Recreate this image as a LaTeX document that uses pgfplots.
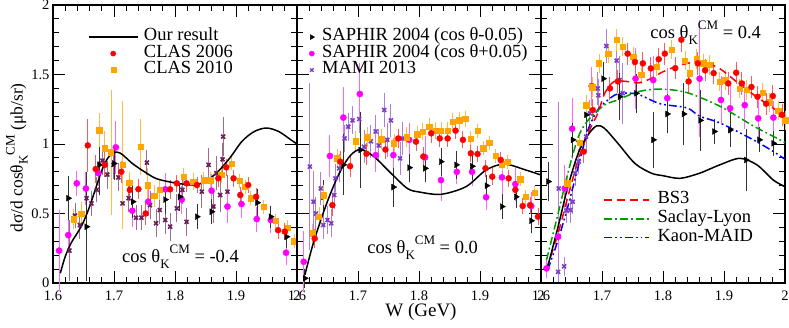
\documentclass[border=0pt]{standalone}
\usepackage{fontspec}
\setmainfont{Liberation Serif}
\usepackage{pgfplots}
\pgfplotsset{compat=1.18}
\definecolor{cl06}{RGB}{255,0,0}
\definecolor{cl10}{RGB}{255,165,0}
\definecolor{sapm}{RGB}{255,0,255}
\definecolor{mami}{RGB}{125,60,195}
\definecolor{mamidark}{RGB}{105,30,85}
\definecolor{slgreen}{RGB}{0,155,0}
\newcommand{\bigf}{\fontsize{18.5}{20}\selectfont}
\newcommand{\subf}{\fontsize{13}{13}\selectfont}
\pgfplotsset{
  panel/.style={scale only axis, width=244pt, height=278pt,
    xmin=1.6, xmax=2, ymin=0, ymax=2, clip=false,
    xtick={1.6,1.7,1.8,1.9,2}, xticklabels={1.6,1.7,1.8,1.9,2},
    ytick={0,0.5,1,1.5,2},
    minor x tick num=4, minor y tick num=4,
    tick align=inside, major tick length=12pt, minor tick length=6pt,
    tick pos=both, xticklabel pos=lower, yticklabel pos=left,
    axis line style={line width=1.2pt},
    every tick/.style={black, line width=1pt},
    tick label style={font=\fontsize{14.5}{14.5}\selectfont},
    xticklabel style={yshift=-4pt},
    /pgf/number format/assume math mode=true,
    legend cell align=left,
  },
  eb/.style={error bars/.cd, y dir=both, y explicit,
    error bar style={color=#1, line width=0.9pt},
    error mark options={color=#1, mark size=2.8pt, line width=0.9pt}, /pgfplots/.cd},
  dA/.style={only marks, mark=*, mark size=3pt, color=cl06, eb=cl06!65},
  dB/.style={only marks, mark=square*, mark size=2.7pt, color=cl10, eb=cl10!75},
  dC/.style={only marks, mark=triangle*, mark size=3.4pt, mark options={rotate=-90}, color=black, eb=black!80},
  dD/.style={only marks, mark=*, mark size=3.1pt, color=sapm, eb=sapm!60},
  dE/.style={only marks, mark=x, mark size=2.8pt, mark options={line width=1.6pt}, color=#1, eb=#1!65},
  ours/.style={black, line width=1.5pt, smooth, no marks},
  bs3/.style={red, line width=1.5pt, dash pattern=on 8pt off 5pt, smooth, no marks},
  sl/.style={slgreen, line width=1.5pt, dash pattern=on 8pt off 3pt on 1.8pt off 3pt, smooth, no marks},
  km/.style={blue, line width=1.5pt, dash pattern=on 8pt off 3pt on 1.8pt off 3pt on 1.8pt off 3pt, smooth, no marks},
}
\begin{document}
\begin{tikzpicture}
%%%%%%%%%%%%%%%%%%%% PANEL 1 %%%%%%%%%%%%%%%%%%%%
\begin{axis}[panel, name=p1,
  yticklabels={0,0.5,1,1.5,2},
  ylabel={dσ/d cosθ\raisebox{-5pt}{\subf K}\raisebox{8pt}{\subf CM} (μb/sr)},
  every axis y label/.style={at={(axis description cs:-0.148,0.45)}, rotate=90, anchor=center, font=\fontsize{17.5}{19}\selectfont},
  legend style={at={(axis cs:1.657,1.83)}, anchor=north west, draw=none, fill=none, inner sep=0pt, font=\bigf, column sep=5pt, nodes={inner sep=0.5pt, text height=11.5pt, text depth=4pt}},
  legend image code/.code={\draw[mark repeat=2,mark phase=2,#1] plot coordinates {(0pt,0pt) (24.5pt,0pt) (49pt,0pt)};},
]
\addlegendimage{ours}\addlegendentry{Our result}
\addlegendimage{only marks, mark=*, mark size=2.6pt, cl06}\addlegendentry{CLAS 2006}
\addlegendimage{only marks, mark=square*, mark size=2.5pt, cl10}\addlegendentry{CLAS 2010}
% MAMI 2013
\addplot[forget plot, dE=mamidark] coordinates {
(1.627,0.233)+-(0,0.2) (1.636,0.485)+-(0,0.07) (1.644,0.417)+-(0,0.08) (1.655,0.61)+-(0,0.08)
(1.663,0.573)+-(0,0.07) (1.672,0.67)+-(0,0.07) (1.681,0.88)+-(0,0.08) (1.689,0.78)+-(0,0.08)
(1.699,0.85)+-(0,0.08) (1.707,0.76)+-(0,0.08) (1.714,0.573)+-(0,0.08) (1.724,0.61)+-(0,0.08)
(1.736,0.47)+-(0,0.07) (1.745,0.47)+-(0,0.07) (1.754,0.866)+-(0,0.07) (1.759,0.56)+-(0,0.08)
(1.769,0.43)+-(0,0.08) (1.775,0.525)+-(0,0.08) (1.784,0.453)+-(0,0.08) (1.792,0.405)+-(0,0.08)
(1.803,0.537)+-(0,0.08) (1.812,0.67)+-(0,0.08) (1.819,0.44)+-(0,0.08) (1.844,0.657)+-(0,0.1)
(1.855,0.85)+-(0,0.1) (1.863,0.55)+-(0,0.1) (1.868,0.79)+-(0,0.1) (1.874,0.633)+-(0,0.1)
(1.878,0.89)+-(0,0.1) (1.879,1.053)+-(0,0.12) (1.886,0.657)+-(0,0.1)
};
% SAPHIR +0.05
\addplot[forget plot, dD] coordinates {
(1.610,0.233)+-(0,0.27) (1.625,0.345)+-(0,0.1) (1.639,0.717)+-(0,0.07) (1.654,0.68)+-(0,0.1)
(1.674,0.79)+-(0,0.07) (1.703,0.976)+-(0,0.17) (1.730,0.52)+-(0,0.1) (1.756,0.585)+-(0,0.08)
(1.784,0.674)+-(0,0.1) (1.811,0.60)+-(0,0.08) (1.860,0.664)+-(0,0.1) (1.886,0.55)+-(0,0.1)
(1.909,0.568)+-(0,0.08) (1.934,0.46)+-(0,0.07) (1.957,0.453)+-(0,0.07) (1.982,0.218)+-(0,0.07)
};
% SAPHIR -0.05
\addplot[forget plot, dC] coordinates {
(1.625,0.61)+-(0,0.14) (1.655,0.405)+-(0,0.37) (1.676,0.85)+-(0,0.2) (1.700,0.86)+-(0,0.1)
(1.731,0.585)+-(0,0.1) (1.784,0.60)+-(0,0.08) (1.808,0.62)+-(0,0.08) (1.836,0.477)+-(0,0.07)
(1.860,0.513)+-(0,0.07) (1.935,0.578)+-(0,0.08) (1.957,0.477)+-(0,0.06) (1.983,0.333)+-(0,0.06)
};
% CLAS 2010
\addplot[forget plot, dB] coordinates {
(1.634,0.46)+-(0,0.05) (1.646,0.50)+-(0,0.06) (1.676,1.10)+-(0,0.1) (1.685,0.97)+-(0,0.1)
(1.695,0.94)+-(0,0.43) (1.714,0.85)+-(0,0.44) (1.725,0.72)+-(0,0.06) (1.744,0.98)+-(0,0.18)
(1.755,0.705)+-(0,0.1) (1.766,0.626)+-(0,0.06) (1.775,0.67)+-(0,0.05) (1.814,0.765)+-(0,0.04)
(1.830,0.73)+-(0,0.04) (1.847,0.74)+-(0,0.04) (1.858,0.74)+-(0,0.04) (1.876,0.78)+-(0,0.04)
(1.893,0.86)+-(0,0.03) (1.906,0.736)+-(0,0.03) (1.915,0.693)+-(0,0.03) (1.924,0.61)+-(0,0.03)
(1.945,0.55)+-(0,0.03) (1.965,0.448)+-(0,0.03) (1.985,0.40)+-(0,0.03) (1.995,0.30)+-(0,0.03)
};
% CLAS 2006
\addplot[forget plot, dA] coordinates {
(1.657,0.99)+-(0,0.17) (1.670,0.82)+-(0,0.08) (1.685,0.85)+-(0,0.07) (1.712,0.80)+-(0,0.06)
(1.726,0.67)+-(0,0.06) (1.740,0.675)+-(0,0.05) (1.752,0.50)+-(0,0.06) (1.792,0.674)+-(0,0.05)
(1.803,0.717)+-(0,0.04) (1.819,0.717)+-(0,0.04) (1.836,0.705)+-(0,0.04) (1.871,0.753)+-(0,0.04)
(1.884,0.832)+-(0,0.04) (1.896,0.753)+-(0,0.04) (1.907,0.633)+-(0,0.04) (1.920,0.705)+-(0,0.04)
(1.933,0.62)+-(0,0.04) (1.969,0.38)+-(0,0.04) (1.980,0.37)+-(0,0.04)
};
% Our result
\addplot[forget plot, ours] coordinates {
(1.612,0.07) (1.62,0.19) (1.63,0.29) (1.64,0.36) (1.65,0.44) (1.66,0.55) (1.67,0.68)
(1.68,0.81) (1.69,0.90) (1.70,0.94) (1.71,0.935) (1.72,0.90) (1.73,0.86) (1.75,0.80)
(1.77,0.75) (1.80,0.72) (1.83,0.705) (1.85,0.73) (1.87,0.80) (1.89,0.90) (1.91,1.02)
(1.93,1.09) (1.95,1.115) (1.97,1.09) (1.99,1.03) (2.0,1.0)
};
\node[anchor=base west, font=\bigf, inner sep=0pt] at (axis cs:1.713,0.151)
  {cos θ\raisebox{-6pt}{\subf K}\raisebox{9pt}{\subf CM} = -0.4};
\end{axis}
%%%%%%%%%%%%%%%%%%%% PANEL 2 %%%%%%%%%%%%%%%%%%%%
\begin{axis}[panel, name=p2, at={(p1.south east)}, anchor=south west,
  yticklabels={},
  xlabel={W (GeV)},
  every axis x label/.style={at={(axis description cs:0.508,-0.105)}, anchor=center, font=\fontsize{19}{20}\selectfont},
  legend style={at={(axis cs:1.6197,1.83)}, anchor=north west, draw=none, fill=none, inner sep=0pt, font=\bigf, column sep=7pt, nodes={inner sep=0.5pt, text height=11.5pt, text depth=4pt}},
  legend image code/.code={\draw[mark repeat=2,mark phase=2,#1] plot coordinates {(0pt,0pt) (5pt,0pt) (10pt,0pt)};},
]
\addlegendimage{only marks, mark=triangle*, mark size=2.8pt, mark options={rotate=-90}, black}\addlegendentry{SAPHIR 2004 (cos θ-0.05)}
\addlegendimage{only marks, mark=*, mark size=2.6pt, sapm}\addlegendentry{SAPHIR 2004 (cos θ+0.05)}
\addlegendimage{only marks, mark=x, mark size=2.4pt, mark options={line width=1.4pt}, mami}\addlegendentry{MAMI 2013}
% MAMI
\addplot[forget plot, dE=mami] coordinates {
(1.621,0.837)+-(0,0.58) (1.627,0.585)+-(0,0.2) (1.631,0.50)+-(0,0.1) (1.639,0.68)+-(0,0.1)
(1.643,0.417)+-(0,0.08) (1.650,0.453)+-(0,0.08) (1.656,0.43)+-(0,0.08) (1.661,0.633)+-(0,0.08)
(1.663,0.753)+-(0,0.08) (1.669,0.825)+-(0,0.08) (1.678,1.04)+-(0,0.08) (1.684,1.125)+-(0,0.08)
(1.691,1.17)+-(0,0.08) (1.702,1.18)+-(0,0.08) (1.710,0.98)+-(0,0.1) (1.721,1.02)+-(0,0.1)
(1.729,1.09)+-(0,0.1) (1.734,0.99)+-(0,0.1) (1.743,1.245)+-(0,0.1) (1.748,1.03)+-(0,0.1)
(1.754,1.17)+-(0,0.1) (1.769,0.897)+-(0,0.1) (1.773,1.04)+-(0,0.1)
};
% SAPHIR +0.05
\addplot[forget plot, dD] coordinates {
(1.611,0.153)+-(0,0.2) (1.654,0.914)+-(0,0.13) (1.676,1.19)+-(0,0.2) (1.703,1.36)+-(0,0.2)
(1.729,0.92)+-(0,0.1) (1.758,0.92)+-(0,0.1) (1.784,1.03)+-(0,0.1) (1.810,0.904)+-(0,0.13)
(1.836,0.74)+-(0,0.13) (1.862,0.80)+-(0,0.07) (1.887,0.80)+-(0,0.08) (1.910,0.617)+-(0,0.07)
(1.936,0.76)+-(0,0.1) (1.958,0.712)+-(0,0.1) (1.984,0.554)+-(0,0.08)
};
% SAPHIR -0.05
\addplot[forget plot, dC] coordinates {
(1.613,0.034)+-(0,0.05) (1.643,0.62)+-(0,0.1) (1.676,0.85)+-(0,0.2) (1.704,0.957)+-(0,0.25)
(1.758,0.69)+-(0,0.12) (1.784,0.83)+-(0,0.08) (1.810,0.825)+-(0,0.08) (1.836,0.873)+-(0,0.08)
(1.861,0.85)+-(0,0.08) (1.887,0.84)+-(0,0.08) (1.911,0.70)+-(0,0.06) (1.936,0.55)+-(0,0.07)
(1.959,0.62)+-(0,0.06) (1.984,0.448)+-(0,0.07)
};
% CLAS 2010
\addplot[forget plot, dB] coordinates {
(1.626,0.357)+-(0,0.05) (1.636,0.477)+-(0,0.05) (1.644,0.633)+-(0,0.05) (1.666,0.897)+-(0,0.05)
(1.696,1.02)+-(0,0.05) (1.715,1.05)+-(0,0.05) (1.738,1.036)+-(0,0.05) (1.759,1.005)+-(0,0.05)
(1.780,1.05)+-(0,0.05) (1.797,1.07)+-(0,0.04) (1.806,1.09)+-(0,0.04) (1.817,1.125)+-(0,0.04)
(1.827,1.096)+-(0,0.04) (1.836,1.096)+-(0,0.04) (1.847,1.096)+-(0,0.04) (1.855,1.16)+-(0,0.04)
(1.866,1.17)+-(0,0.04) (1.876,1.18)+-(0,0.04) (1.885,1.04)+-(0,0.03) (1.896,1.096)+-(0,0.03)
(1.905,0.97)+-(0,0.03) (1.915,1.01)+-(0,0.03) (1.926,0.914)+-(0,0.03) (1.936,0.856)+-(0,0.03)
(1.945,0.873)+-(0,0.03) (1.966,0.746)+-(0,0.03) (1.975,0.62)+-(0,0.03) (1.990,0.65)+-(0,0.03)
};
% CLAS 2006
\addplot[forget plot, dA] coordinates {
(1.629,0.32)+-(0,0.05) (1.658,0.56)+-(0,0.06) (1.671,0.873)+-(0,0.06) (1.687,0.84)+-(0,0.06)
(1.714,0.93)+-(0,0.06) (1.745,0.96)+-(0,0.05) (1.766,1.04)+-(0,0.05) (1.795,1.017)+-(0,0.05)
(1.807,0.91)+-(0,0.05) (1.820,1.077)+-(0,0.05) (1.834,1.04)+-(0,0.04) (1.847,1.04)+-(0,0.04)
(1.860,1.096)+-(0,0.04) (1.872,1.03)+-(0,0.04) (1.885,0.933)+-(0,0.04) (1.896,0.928)+-(0,0.04)
(1.909,0.825)+-(0,0.04) (1.920,0.765)+-(0,0.04) (1.934,0.885)+-(0,0.04) (1.947,0.753)+-(0,0.04)
(1.958,0.67)+-(0,0.04) (1.970,0.554)+-(0,0.04) (1.982,0.56)+-(0,0.04) (1.995,0.477)+-(0,0.04)
};
% Our result
\addplot[forget plot, ours] coordinates {
(1.613,0.06) (1.625,0.26) (1.639,0.453) (1.655,0.645) (1.672,0.813) (1.688,0.92) (1.704,0.96)
(1.726,0.91) (1.754,0.79) (1.781,0.68) (1.80,0.655) (1.836,0.638) (1.877,0.693) (1.91,0.813)
(1.94,0.856) (1.975,0.813) (2.0,0.777)
};
\node[anchor=base west, font=\bigf, inner sep=0pt] at (axis cs:1.715,0.209)
  {cos θ\raisebox{-6pt}{\subf K}\raisebox{9pt}{\subf CM} = 0.0};
\end{axis}
%%%%%%%%%%%%%%%%%%%% PANEL 3 %%%%%%%%%%%%%%%%%%%%
\begin{axis}[panel, name=p3, at={(p2.south east)}, anchor=south west,
  yticklabels={},
  legend style={at={(axis cs:1.702,0.665)}, anchor=north west, draw=none, fill=none, inner sep=0pt, font=\bigf, column sep=7pt, nodes={inner sep=0.6pt, text height=12.5pt, text depth=5pt}},
  legend image code/.code={\draw[#1] (0pt,0pt) -- (45pt,0pt);},
]
\addlegendimage{bs3}\addlegendentry{BS3}
\addlegendimage{sl}\addlegendentry{Saclay-Lyon}
\addlegendimage{km}\addlegendentry{Kaon-MAID}
% MAMI
\addplot[forget plot, dE=mami] coordinates {
(1.628,0.08)+-(0,0.05) (1.629,0.68)+-(0,0.6) (1.638,0.12)+-(0,0.05) (1.642,0.52)+-(0,0.07)
(1.648,0.525)+-(0,0.07) (1.652,0.585)+-(0,0.07) (1.656,0.79)+-(0,0.07) (1.662,0.873)+-(0,0.07)
(1.674,1.053)+-(0,0.08) (1.680,1.22)+-(0,0.08) (1.693,1.40)+-(0,0.1) (1.694,1.35)+-(0,0.1)
(1.707,1.705)+-(0,0.1) (1.724,1.60)+-(0,0.12) (1.729,1.46)+-(0,0.15) (1.734,1.365)+-(0,0.2)
};
% SAPHIR +0.05
\addplot[forget plot, dD] coordinates {
(1.609,0.105)+-(0,0.05) (1.628,0.333)+-(0,0.1) (1.639,0.68)+-(0,0.15) (1.651,1.11)+-(0,0.2)
(1.683,1.417)+-(0,0.12) (1.755,1.47)+-(0,0.2) (1.784,1.46)+-(0,0.15) (1.807,1.33)+-(0,0.2)
(1.860,1.47)+-(0,0.4) (1.895,1.317)+-(0,0.15) (1.910,1.257)+-(0,0.15) (1.934,1.28)+-(0,0.15)
(1.956,1.185)+-(0,0.15) (1.981,1.19)+-(0,0.1)
};
% SAPHIR -0.05
\addplot[forget plot, dC] coordinates {
(1.612,0.73)+-(0,0.12) (1.652,1.03)+-(0,0.1) (1.674,1.21)+-(0,0.1) (1.702,1.47)+-(0,0.1)
(1.729,1.34)+-(0,0.15) (1.756,1.365)+-(0,0.12) (1.784,1.03)+-(0,0.18) (1.807,1.216)+-(0,0.12)
(1.834,1.216)+-(0,0.2) (1.861,1.17)+-(0,0.2) (1.884,1.09)+-(0,0.07) (1.910,1.10)+-(0,0.1)
(1.936,0.885)+-(0,0.2) (1.958,1.03)+-(0,0.07) (1.981,1.005)+-(0,0.07)
};
% CLAS 2010
\addplot[forget plot, dB] coordinates {
(1.643,0.717)+-(0,0.05) (1.663,1.01)+-(0,0.05) (1.674,1.28)+-(0,0.05) (1.684,1.41)+-(0,0.05)
(1.695,1.58)+-(0,0.05) (1.710,1.65)+-(0,0.05) (1.724,1.75)+-(0,0.06) (1.734,1.70)+-(0,0.05)
(1.751,1.63)+-(0,0.05) (1.764,1.50)+-(0,0.05) (1.790,1.556)+-(0,0.05) (1.814,1.68)+-(0,0.05)
(1.836,1.60)+-(0,0.05) (1.844,1.51)+-(0,0.05) (1.855,1.61)+-(0,0.05) (1.866,1.58)+-(0,0.05)
(1.876,1.57)+-(0,0.05) (1.893,1.45)+-(0,0.05) (1.902,1.46)+-(0,0.05) (1.926,1.40)+-(0,0.05)
(1.937,1.39)+-(0,0.05) (1.963,1.37)+-(0,0.05) (1.975,1.30)+-(0,0.05) (1.989,1.24)+-(0,0.05)
(2.0,1.17)+-(0,0.05)
};
% CLAS 2006
\addplot[forget plot, dA] coordinates {
(1.670,0.945)+-(0,0.06) (1.685,1.245)+-(0,0.06) (1.713,1.40)+-(0,0.06) (1.726,1.45)+-(0,0.06)
(1.742,1.65)+-(0,0.06) (1.754,1.59)+-(0,0.06) (1.767,1.58)+-(0,0.06) (1.780,1.544)+-(0,0.06)
(1.793,1.61)+-(0,0.06) (1.803,1.65)+-(0,0.06) (1.820,1.545)+-(0,0.06) (1.830,1.75)+-(0,0.07)
(1.842,1.45)+-(0,0.06) (1.857,1.58)+-(0,0.06) (1.869,1.53)+-(0,0.06) (1.883,1.51)+-(0,0.06)
(1.907,1.436)+-(0,0.06) (1.920,1.513)+-(0,0.06) (1.929,1.436)+-(0,0.06) (1.945,1.41)+-(0,0.06)
(1.955,1.34)+-(0,0.06) (1.969,1.29)+-(0,0.06) (1.980,1.345)+-(0,0.06) (1.995,1.21)+-(0,0.06)
};
% models
\addplot[forget plot, km] coordinates {
(1.611,0.094) (1.628,0.31) (1.644,0.55) (1.661,0.837) (1.677,1.10) (1.693,1.245) (1.71,1.317)
(1.726,1.36) (1.757,1.36) (1.795,1.29) (1.839,1.26) (1.86,1.20) (1.894,1.15) (1.948,1.03)
(1.983,0.94) (2.0,0.89)
};
\addplot[forget plot, sl] coordinates {
(1.609,0.165) (1.628,0.50) (1.644,0.79) (1.661,1.05) (1.677,1.17) (1.704,1.28) (1.726,1.317)
(1.759,1.376) (1.795,1.395) (1.839,1.37) (1.894,1.27) (1.948,1.13) (1.983,1.05) (2.0,1.01)
};
\addplot[forget plot, bs3] coordinates {
(1.609,0.1) (1.628,0.357) (1.644,0.62) (1.661,0.885) (1.677,1.077) (1.693,1.22) (1.705,1.37)
(1.72,1.45) (1.74,1.45) (1.76,1.44) (1.78,1.47) (1.80,1.52) (1.83,1.57) (1.86,1.59) (1.89,1.55)
(1.92,1.45) (1.95,1.35) (1.98,1.26) (2.0,1.2)
};
\addplot[forget plot, ours] coordinates {
(1.611,0.118) (1.628,0.405) (1.644,0.693) (1.661,0.933) (1.677,1.065) (1.691,1.13) (1.704,1.113)
(1.726,1.005) (1.754,0.86) (1.781,0.79) (1.80,0.772) (1.828,0.753) (1.86,0.79) (1.893,0.85)
(1.926,0.897) (1.954,0.85) (1.981,0.74) (2.0,0.693)
};
\node[anchor=base west, font=\bigf, inner sep=0pt] at (axis cs:1.779,1.76)
  {cos θ\raisebox{-6pt}{\subf K}\raisebox{9pt}{\subf CM} = 0.4};
\end{axis}
\pgfresetboundingbox
\path[use as bounding box] ([xshift=-53pt,yshift=-44pt]p1.south west) rectangle ([xshift=4pt,yshift=5pt]p3.north east);
\end{tikzpicture}
\end{document}
